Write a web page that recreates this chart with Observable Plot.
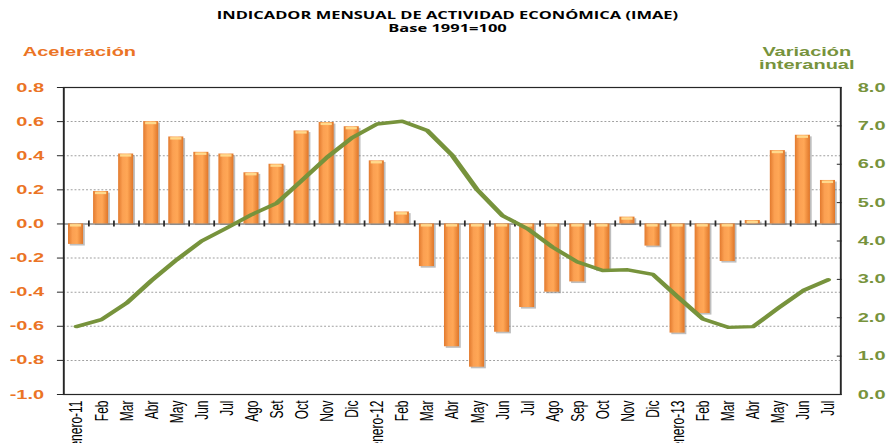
<!DOCTYPE html>
<html><head><meta charset="utf-8">
<script src="https://cdn.jsdelivr.net/npm/d3@7"></script>
<script src="https://cdn.jsdelivr.net/npm/@observablehq/plot@0.6"></script>
<style>
html,body{margin:0;padding:0;background:#fff;overflow:hidden}
#chart svg{display:block}
</style></head><body><div id="chart"></div>
<script>
const categories = ["enero-11","Feb","Mar","Abr","May","Jun","Jul","Ago","Set","Oct","Nov","Dic",
  "enero-12","Feb","Mar","Abr","May","Jun","Jul","Ago","Sep","Oct","Nov","Dic",
  "enero-13","Feb","Mar","Abr","May","Jun","Jul"];
const aceleracion = [-0.12, 0.19, 0.41, 0.60, 0.51, 0.42, 0.41, 0.30, 0.35, 0.545, 0.595, 0.57,
  0.37, 0.07, -0.25, -0.72, -0.84, -0.635, -0.49, -0.40, -0.34, -0.27, 0.04, -0.13,
  -0.64, -0.525, -0.22, 0.02, 0.43, 0.52, 0.255];
const interanual = [1.77, 1.95, 2.38, 2.97, 3.51, 4.0, 4.34, 4.69, 4.99, 5.58, 6.18, 6.69,
  7.05, 7.12, 6.88, 6.23, 5.33, 4.66, 4.32, 3.84, 3.45, 3.23, 3.25, 3.13,
  2.54, 1.97, 1.75, 1.77, 2.25, 2.71, 2.99];
const leftTicks = [-1.0, -0.8, -0.6, -0.4, -0.2, 0.0, 0.2, 0.4, 0.6, 0.8];
const rightTicks = [0, 1, 2, 3, 4, 5, 6, 7, 8];
const title = "INDICADOR MENSUAL DE ACTIVIDAD ECONÓMICA (IMAE)";
const subtitle = "Base 1991=100";
const leftLabel = "Aceleración";
const rightLabel = ["Variación", "interanual"];

const ORANGE = "#EB7425", GREEN = "#77933C";
const S = 1.6; // horizontal stretch of the original picture
const W = 893 / S, H = 443;
const mL = 63 / S, mR = 53 / S, mT = 87, mB = 49;
const n = categories.length;
const step = (W - mL - mR) / n;
const yMin = leftTicks[0], yMax = leftTicks[leftTicks.length - 1];
const rMax = rightTicks[rightTicks.length - 1];
const toLeft = v => yMin + v * (yMax - yMin) / rMax;

const data = categories.map((c, i) => ({i, c, a: aceleracion[i], r: interanual[i], ry: toLeft(interanual[i])}));
const dotted = leftTicks.filter(t => t !== 0 && t !== yMin && t !== yMax);
const rightMap = new Map(rightTicks.map(t => [toLeft(t), t.toFixed(1)]));

const defs = () => {
  const d = d3.create("svg:defs");
  const g = d.append("linearGradient").attr("id", "barGrad").attr("x1", 0).attr("x2", 1).attr("y1", 0).attr("y2", 0);
  [[0, "#E27A2E"], [0.3, "#FBA052"], [0.6, "#FFA756"], [1, "#DF7629"]].forEach(([o, c]) =>
    g.append("stop").attr("offset", o).attr("stop-color", c));
  return d.node();
};

const plot = Plot.plot({
  width: W, height: H,
  marginLeft: mL, marginRight: mR, marginTop: mT, marginBottom: mB,
  x: {type: "band", domain: d3.range(n), paddingInner: 0.4, paddingOuter: 0.2, round: false, axis: null},
  y: {domain: [yMin, yMax], axis: null},
  style: {fontFamily: "'Liberation Sans', Arial, sans-serif", overflow: "visible", background: "#fff"},
  marks: [
    defs,
    Plot.ruleY(dotted, {stroke: "#a0a0a0", strokeDasharray: "1.2,1.2", strokeWidth: 1}),
    Plot.ruleY([0], {stroke: "#8a8a8a", strokeWidth: 1.6}),
    Plot.rectY(data, {x: "i", y: "a", fill: "#6f6f6f", fillOpacity: 0.45, dx: 1.1, dy: 1.6}),
    Plot.rectY(data, {x: "i", y: "a", fill: "url(#barGrad)"}),
    Plot.tickY(data, {x: "i", y: d => Math.max(d.a, 0), stroke: "#FFD98C", strokeWidth: 2.4, dy: 1.4, inset: 1.2}),
    Plot.ruleX(data.slice(1), {x: "i", y1: 0, y2: 0, insetTop: -3, insetBottom: -3, dx: -step / 2, stroke: "#2a2a2a", strokeWidth: 1.1}),
    Plot.line(data, {x: "i", y: "ry", stroke: GREEN, strokeWidth: 3.4, strokeLinejoin: "round"}),
    Plot.frame({stroke: "#262626", strokeWidth: 1.2}),
    Plot.axisY({anchor: "left", label: null, ticks: leftTicks, tickFormat: d => d.toFixed(1), tickSize: 3.8, tickPadding: 8.5,
      stroke: "#262626", fill: ORANGE, fontWeight: "bold", fontSize: 12.5}),
    Plot.axisY({anchor: "right", label: null, ticks: [...rightMap.keys()], tickFormat: d => rightMap.get(d), tickSize: -3, tickPadding: 13.6,
      stroke: "#262626", fill: GREEN, fontWeight: "bold", fontSize: 12.5}),
    Plot.axisX({anchor: "bottom", label: null, tickRotate: -90, tickSize: 0, tickPadding: 6, tickFormat: i => categories[i],
      fill: "#000", fontSize: 12, fontFamily: "'Liberation Sans Narrow', 'Liberation Sans', Arial, sans-serif"}),
    Plot.text([title], {frameAnchor: "top", dx: -3, dy: 18.3 - mT, lineAnchor: "bottom", fontWeight: "bold", fontSize: 10.3,
      fontFamily: "'Open Sans', sans-serif", fill: "#000"}),
    Plot.text([subtitle], {frameAnchor: "top", dx: -3, dy: 31.5 - mT, lineAnchor: "bottom", fontWeight: "bold", fontSize: 10.3,
      fontFamily: "'Open Sans', sans-serif", fill: "#000"}),
    Plot.text([leftLabel], {frameAnchor: "top-left", textAnchor: "start", dx: (22 - 63) / S, dy: 55 - mT, lineAnchor: "bottom",
      fontWeight: "bold", fontSize: 12.5, fill: ORANGE}),
    Plot.text([rightLabel[0]], {frameAnchor: "top-right", textAnchor: "middle", dx: (806 - 840) / S, dy: 55 - mT, lineAnchor: "bottom",
      fontWeight: "bold", fontSize: 12.5, fill: GREEN}),
    Plot.text([rightLabel[1]], {frameAnchor: "top-right", textAnchor: "middle", dx: (806 - 840) / S, dy: 68.3 - mT, lineAnchor: "bottom",
      fontWeight: "bold", fontSize: 12.5, fill: GREEN})
  ]
});
plot.setAttribute("width", 893);
plot.setAttribute("height", 443);
plot.setAttribute("viewBox", `0 0 ${W} ${H}`);
plot.setAttribute("preserveAspectRatio", "none");
plot.style.width = "893px";
plot.style.height = "443px";
plot.style.maxWidth = "none";
document.getElementById("chart").appendChild(plot);
</script></body></html>
